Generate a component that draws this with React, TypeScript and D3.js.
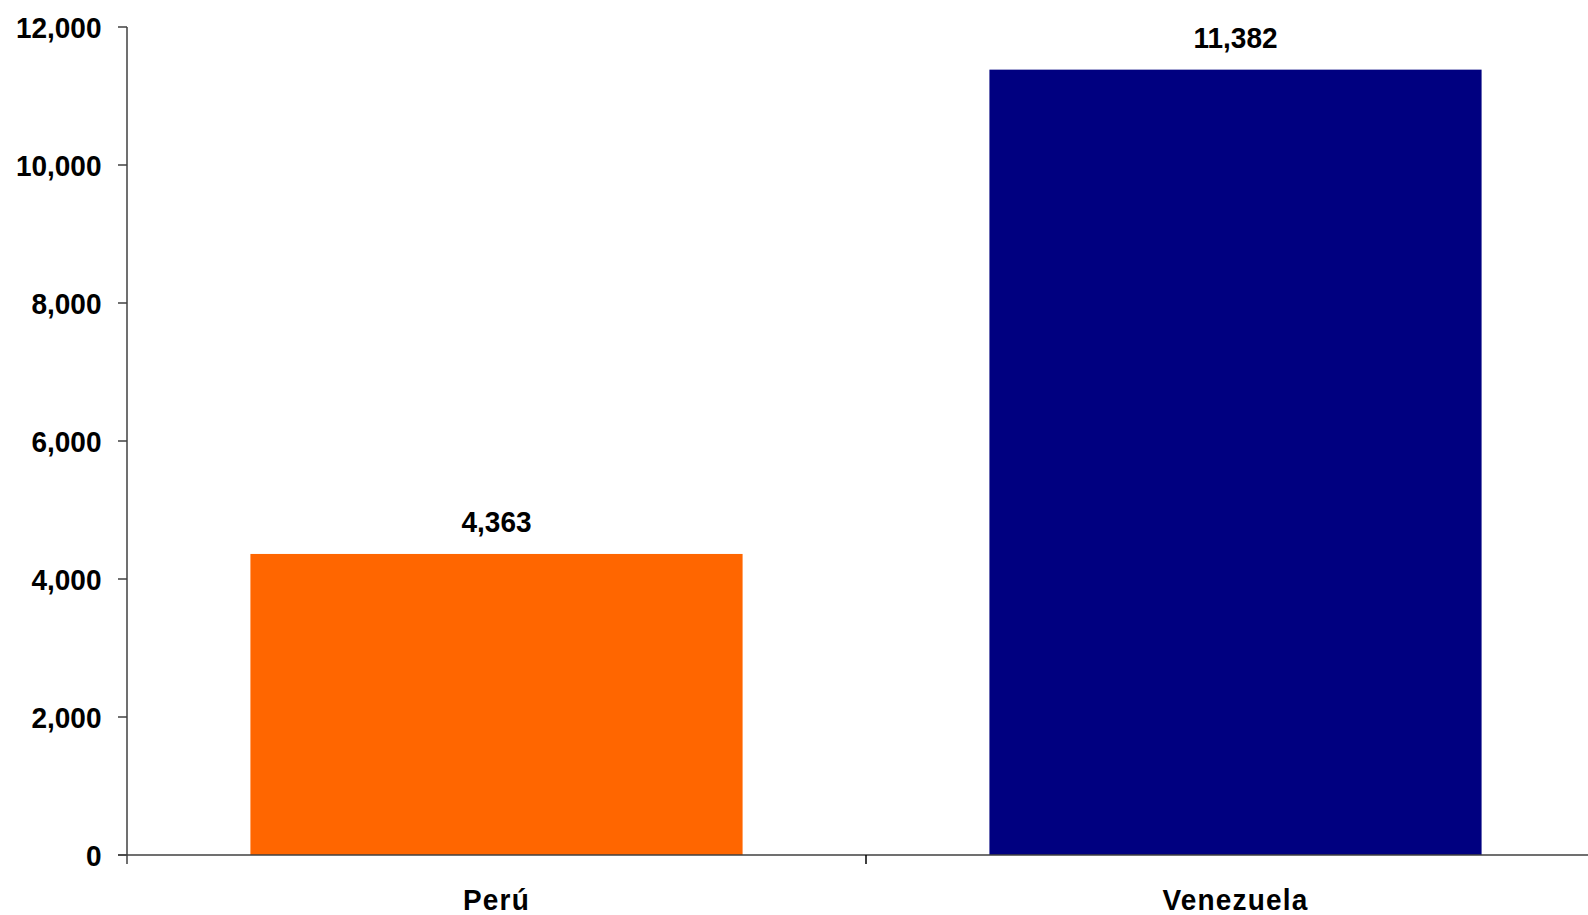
import React from "react";
import * as d3 from "d3";

const categories = ["Perú", "Venezuela"];
const values = [4363, 11382];
const colors = ["#FF6600", "#000080"];
const yTicks = [0, 2000, 4000, 6000, 8000, 10000, 12000];

export default function App() {
  const W = 1588, H = 915;
  const left = 127, right = 1605, top = 27, bottom = 855;
  const x = d3.scaleBand<string>().domain(categories).range([left, right]).paddingInner(0).paddingOuter(0);
  const y = d3.scaleLinear().domain([0, 12000]).range([bottom, top]);
  const fmt = d3.format(",");
  const bw = x.bandwidth() * 0.666;
  const font = "'Liberation Sans', Arial, sans-serif";
  const T = (props: { x: number; y: number; anchor: string; ls?: number; children: React.ReactNode }) => (
    <text
      transform={`translate(${props.x},${props.y}) scale(1,1.07)`}
      textAnchor={props.anchor}
      fontFamily={font}
      fontWeight="bold"
      fontSize={28}
      letterSpacing={props.ls ?? 0}
      fill="#000"
    >
      {props.children}
    </text>
  );
  return (
    <svg width={W} height={H} style={{ position: "absolute", left: 0, top: 0, background: "#fff" }}>
      <rect x={0} y={0} width={W} height={H} fill="#fff" />
      {categories.map((c, i) => {
        const cx = x(c)! + x.bandwidth() / 2;
        return (
          <g key={c}>
            <rect x={cx - bw / 2} y={y(values[i])} width={bw} height={bottom - y(values[i])} fill={colors[i]} />
            <T x={cx} y={y(values[i]) - 21.5} anchor="middle">{fmt(values[i])}</T>
            <T x={cx} y={910} anchor="middle" ls={1.2}>{c}</T>
          </g>
        );
      })}
      <line x1={left} x2={left} y1={top} y2={bottom + 9} stroke="#404040" strokeWidth={1.5} />
      <line x1={left - 9} x2={right} y1={bottom} y2={bottom} stroke="#404040" strokeWidth={1.5} />
      {yTicks.map((t) => (
        <g key={t}>
          <line x1={left - 9} x2={left} y1={y(t)} y2={y(t)} stroke="#404040" strokeWidth={1.5} />
          <T x={left - 25.5} y={y(t) + 10.5} anchor="end">{fmt(t)}</T>
        </g>
      ))}
      {categories.slice(1).map((c) => (
        <line key={c} x1={x(c)!} x2={x(c)!} y1={bottom} y2={bottom + 9} stroke="#000" strokeWidth={1.5} />
      ))}
    </svg>
  );
}
